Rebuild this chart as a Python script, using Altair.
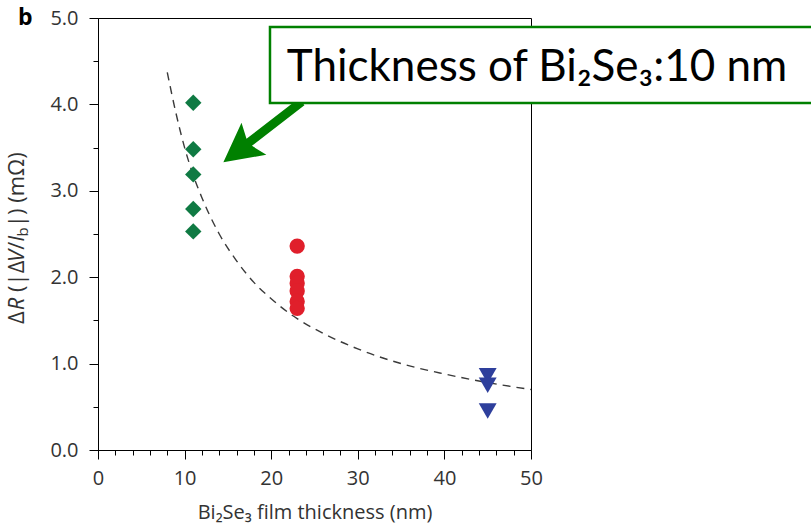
import altair as alt
import pandas as pd

# ---- data ----
green_x = [11, 11, 11, 11, 11]
green_y = [4.02, 3.48, 3.19, 2.79, 2.53]
red_x = [23, 23, 23, 23, 23, 23]
red_y = [2.36, 2.01, 1.93, 1.84, 1.72, 1.64]
blue_x = [45, 45, 45]
blue_y = [0.86, 0.75, 0.45]
fit_x = [8, 9, 10, 11, 12, 14, 16, 18, 20, 23, 26, 30, 35, 40, 45, 50]
fit_y = [4.37, 3.9, 3.5, 3.18, 2.92, 2.5, 2.19, 1.94, 1.75, 1.52, 1.35, 1.17, 1.0, 0.88, 0.78, 0.70]
x_tick_values = list(range(0, 51, 2))
y_tick_values = [i * 0.5 for i in range(11)]

W, H = 433, 432
FONT = "Open Sans"
GREEN = "#008000"

xs = alt.Scale(domain=[0, 50], nice=False, zero=False)
ys = alt.Scale(domain=[0, 5], nice=False, zero=False)

fit_df = pd.DataFrame({"x": fit_x, "y": fit_y})
green_df = pd.DataFrame({"x": green_x, "y": green_y})
red_df = pd.DataFrame({"x": red_x, "y": red_y})
blue_df = pd.DataFrame({"x": blue_x, "y": blue_y})

x_axis = alt.Axis(
    values=x_tick_values,
    labelExpr="datum.value % 10 === 0 ? datum.value : ''",
    tickSize={"condition": {"test": "datum.value % 10 !== 0", "value": 5}, "value": 9},
    labelOverlap=False, labelFlush=False,
    labelFont=FONT, labelFontSize=20, labelColor="#333333", labelPadding=9,
    title="Bi₂Se₃ film thickness (nm)",
    titleFont=FONT, titleFontSize=20, titleFontWeight="normal", titleColor="#333333",
    titlePadding=14,
    grid=False, domainColor="black", tickColor="black",
)
y_axis = alt.Axis(
    values=y_tick_values,
    labelExpr="datum.value % 1 === 0 ? format(datum.value, '.1f') : ''",
    tickSize={"condition": {"test": "datum.value % 1 !== 0", "value": 5}, "value": 9},
    labelOverlap=False, labelFlush=False,
    labelFont=FONT, labelFontSize=20, labelColor="#333333", labelPadding=11,
    title="",
    grid=False, domainColor="black", tickColor="black",
)


def X(field=None, datum=None):
    if datum is not None:
        return alt.XDatum(datum, scale=xs, axis=x_axis)
    return alt.X(field, type="quantitative", scale=xs, axis=x_axis)


def Y(field=None, datum=None):
    if datum is not None:
        return alt.YDatum(datum, scale=ys, axis=y_axis)
    return alt.Y(field, type="quantitative", scale=ys, axis=y_axis)


fit = alt.Chart(fit_df).mark_line(
    color="#3a3a3a", strokeWidth=1.4, strokeDash=[8, 6], interpolate="monotone", clip=False
).encode(x=X("x"), y=Y("y"))

greens = alt.Chart(green_df).mark_point(
    shape="diamond", filled=True, size=270, color="#0f7a43", opacity=1
).encode(x=X("x"), y=Y("y"))

reds = alt.Chart(red_df).mark_point(
    shape="circle", filled=True, size=235, color="#e01f2b", opacity=1
).encode(x=X("x"), y=Y("y"))

blues = alt.Chart(blue_df).mark_point(
    shape="triangle-down", filled=True, size=320, color="#2e3f9c", opacity=1
).encode(x=X("x"), y=Y("y"))

one = pd.DataFrame({"a": [0]})

# ---- annotation: arrow, box, text ----
arrow = alt.Chart(one).mark_point(
    shape="M0,-1L0.41,-0.22L0.09,-0.34L0.09,1L-0.09,1L-0.09,-0.34L-0.41,-0.22Z",
    filled=True, size=9800, angle=232.3, color=GREEN, opacity=1, strokeWidth=0,
).encode(x=X(datum=19.0), y=Y(datum=3.68))

box = alt.Chart(one).mark_rect(
    fill="white", stroke=GREEN, strokeWidth=2.5, clip=False
).encode(
    x=X(datum=19.86), x2=alt.X2Datum(84.0),
    y=Y(datum=4.896), y2=alt.Y2Datum(4.016),
)

box_text = alt.Chart(one).mark_text(
    text="Thickness of Bi₂Se₃:10 nm", font="Lato", fontSize=44,
    align="left", baseline="alphabetic", color="black",
).encode(x=X(datum=21.8), y=Y(datum=4.27))

panel = alt.Chart(one).mark_text(
    text="b", font=FONT, fontSize=23, fontWeight="bold",
    align="left", baseline="alphabetic", color="black",
).encode(x=alt.value(-80), y=alt.value(7))

# ---- y title built from pieces (rotated) ----
TS = 22
# (text, style, size, em width of the text, extra leading advance in em)
pieces = [
    ("Δ", "normal", TS, 0.62, 0.0),
    ("R", "italic", TS, 0.58, 0.0),
    ("(|Δ", "normal", TS, 0.30 + 0.42 + 0.64, 0.26),
    ("V", "italic", TS, 0.56, 0.0),
    ("/", "normal", TS, 0.36, 0.0),
    ("I", "italic", TS, 0.24, 0.0),
    ("b", "normal", 15, 0.62, 0.0),
    ("|) (mΩ)", "normal", TS, 0.30 + 0.30 + 0.26 + 0.30 + 0.93 + 0.76 + 0.30, 0.0),
]
title_layers = []
pos = 306.0
for txt, style, size, em, lead in pieces:
    pos -= lead * size
    xoff = -74 + (4 if txt == "b" else 0)
    title_layers.append(
        alt.Chart(one).mark_text(
            text=txt, font=FONT, fontSize=size, fontStyle=style, angle=270,
            align="left", baseline="alphabetic", color="#333333",
        ).encode(x=alt.value(xoff), y=alt.value(pos))
    )
    pos -= em * size

chart = alt.layer(
    fit, greens, reds, blues, arrow, box, box_text, panel, *title_layers
).properties(
    width=W, height=H,
    autosize=alt.AutoSizeParams(type="none"),
    padding={"left": 98, "top": 18, "right": 280, "bottom": 78},
).configure_view(
    stroke="black", strokeWidth=1
)

chart.save("out.html", embed_options={"renderer": "svg", "actions": False})
